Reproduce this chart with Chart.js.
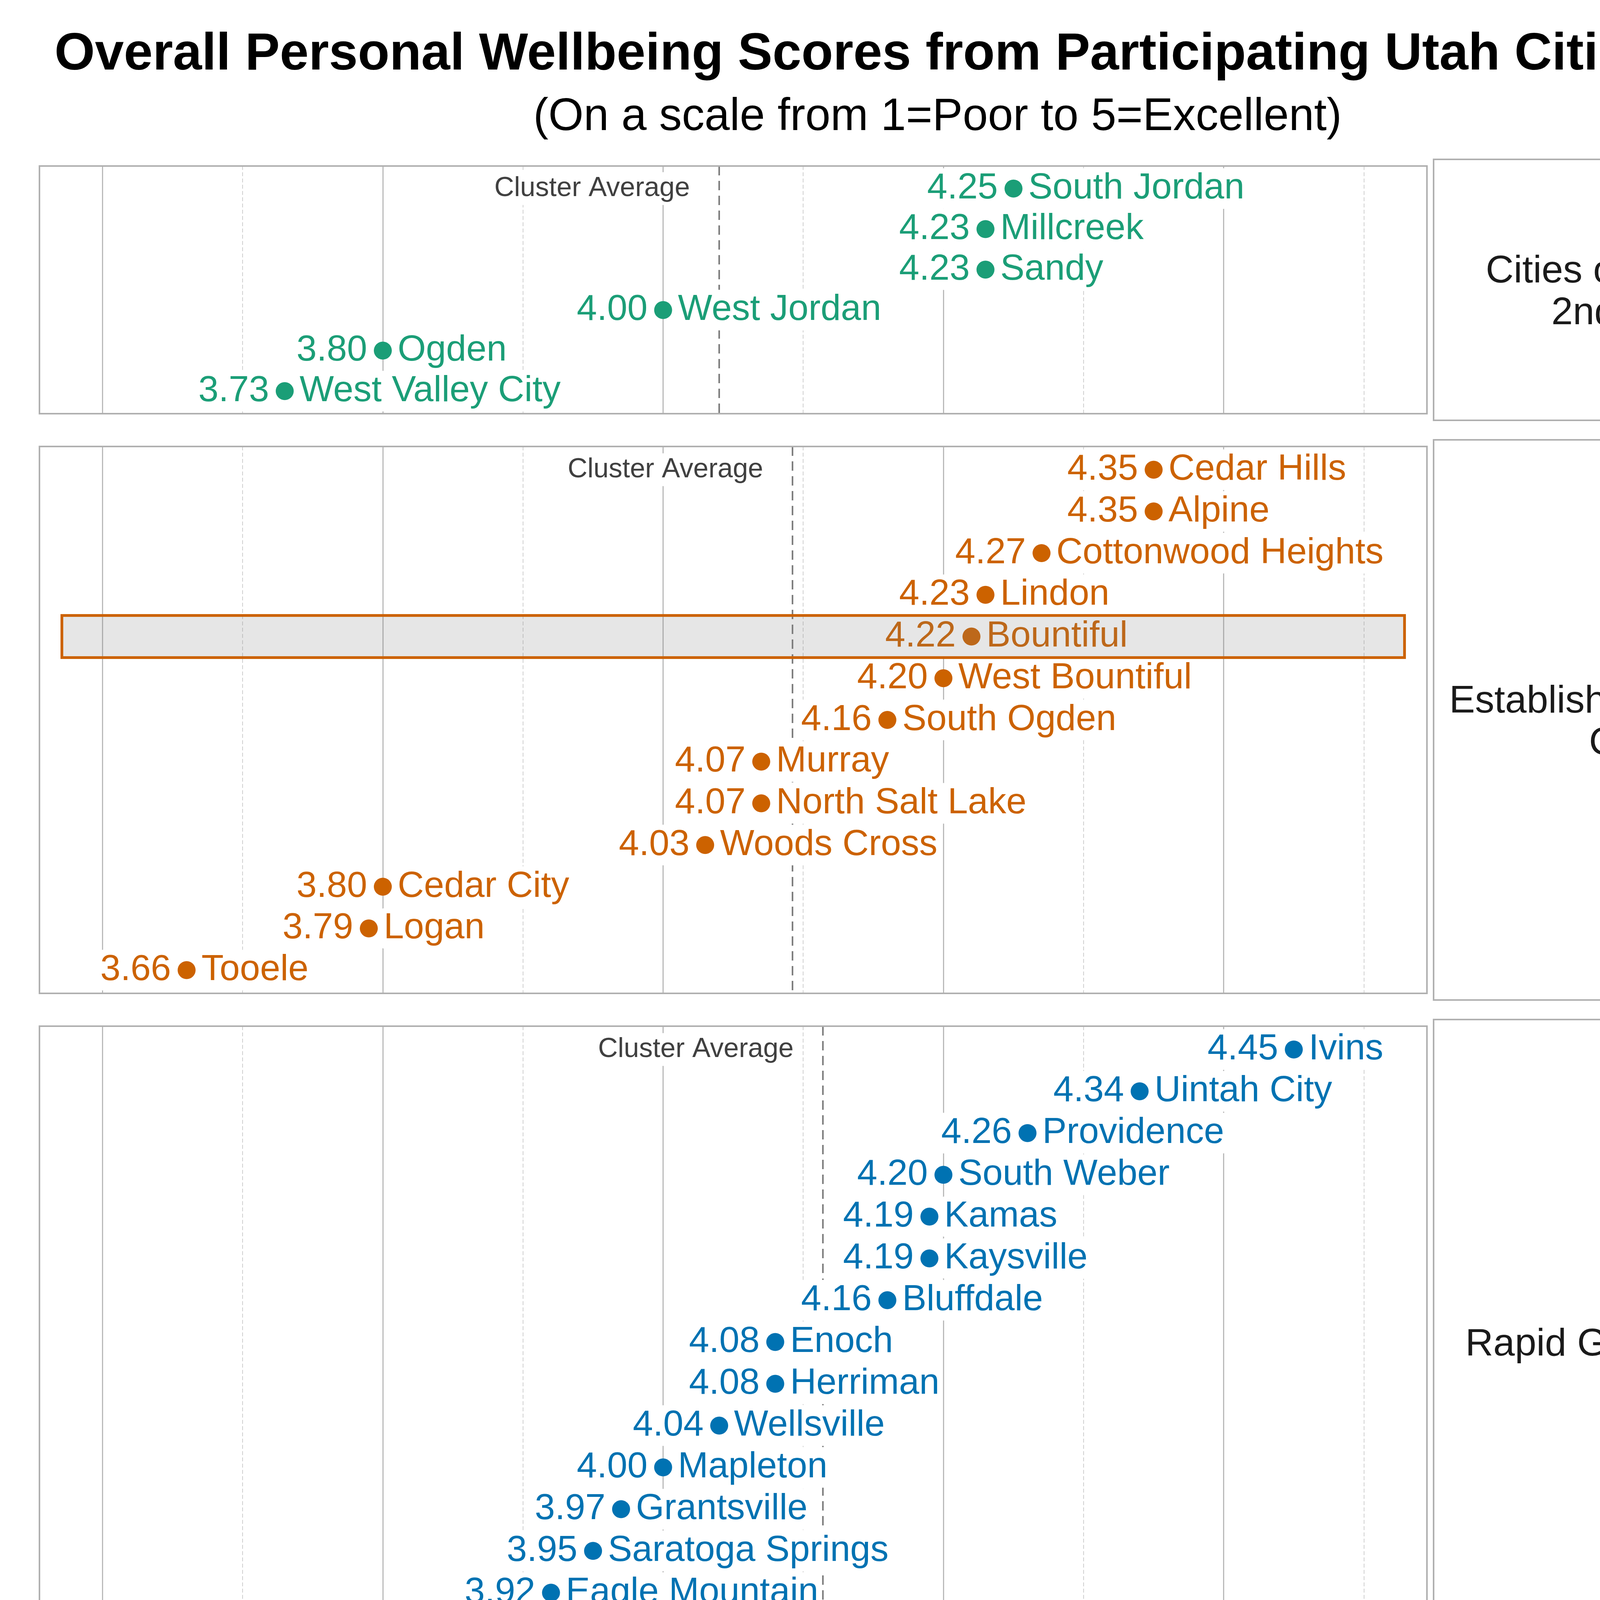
<!DOCTYPE html>
<html>
<head>
<meta charset="utf-8">
<title>Overall Personal Wellbeing Scores</title>
<script src="https://cdn.jsdelivr.net/npm/chart.js@4.4.1/dist/chart.umd.min.js"></script>
<style>
  body { margin: 0; background: #fff; width: 4800px; height: 7200px; position: relative;
         font-family: "Liberation Sans", Arial, sans-serif; }
  #title { position: absolute; left: 0; width: 4800px; top: 66px; text-align: center;
           font-size: 133px; line-height: 133px; font-weight: bold; color: #000; }
  #subtitle { position: absolute; left: 0; width: 4800px; top: 235px; text-align: center;
              font-size: 116px; line-height: 116px; color: #000; }
  #xtitle { position: absolute; left: 877px; width: 2000px; top: 7031px; text-align: center;
            font-size: 82px; line-height: 82px; color: #000; }
  .strip { position: absolute; box-sizing: border-box; border: 4px solid #b0b0b0;
           display: flex; align-items: center; justify-content: center; text-align: center;
           white-space: pre-line; font-size: 99px; line-height: 107px; color: #1a1a1a; }
  canvas { position: absolute; }
</style>
</head>
<body>
<div id="title">Overall Personal Wellbeing Scores from Participating Utah Cities (2026)</div>
<div id="subtitle">(On a scale from 1=Poor to 5=Excellent)</div>
<div id="xtitle">Average Score</div>

<script>
// ---- data ----
var clusterLabels = [
  'Cities of the 1st &\n2nd Class',
  'Established/Mid-sized\nCities',
  'Rapid Growth Cities',
  'Rural Hub/Resort\nCommunities',
  'Traditional Rural\nCommunities'
];

var citiesFirstClass = ['South Jordan', 'Millcreek', 'Sandy', 'West Jordan', 'Ogden', 'West Valley City'];
var scoresFirstClass = [4.25, 4.23, 4.23, 4.00, 3.80, 3.73];

var citiesEstablished = ['Cedar Hills', 'Alpine', 'Cottonwood Heights', 'Lindon', 'Bountiful', 'West Bountiful',
  'South Ogden', 'Murray', 'North Salt Lake', 'Woods Cross', 'Cedar City', 'Logan', 'Tooele'];
var scoresEstablished = [4.35, 4.35, 4.27, 4.23, 4.22, 4.20, 4.16, 4.07, 4.07, 4.03, 3.80, 3.79, 3.66];

var citiesRapid = ['Ivins', 'Uintah City', 'Providence', 'South Weber', 'Kamas', 'Kaysville', 'Bluffdale', 'Enoch',
  'Herriman', 'Wellsville', 'Mapleton', 'Grantsville', 'Saratoga Springs', 'Eagle Mountain', 'Lehi'];
var scoresRapid = [4.45, 4.34, 4.26, 4.20, 4.19, 4.19, 4.16, 4.08, 4.08, 4.04, 4.00, 3.97, 3.95, 3.92, 3.88];

var citiesRuralHub = ['Alta', 'Midway', 'Springdale', 'Morgan', 'Heber', 'Manila', 'Nephi', 'Richfield', 'Bluff',
  'Moab', 'Blanding', 'Vernal', 'Tremonton', 'Wendover'];
var scoresRuralHub = [4.44, 4.38, 4.27, 4.23, 4.19, 4.13, 4.01, 3.99, 3.98, 3.81, 3.78, 3.75, 3.72, 3.67];

var citiesTraditional = ['Mayfield', 'Toquerville', 'Lewiston', 'Lake Point', 'La Verkin', 'Orangeville',
  'Stockton', 'Ferron', 'Delta'];
var scoresTraditional = [4.27, 4.24, 4.22, 4.13, 3.97, 3.96, 3.92, 3.89, 3.77];

var highlightCity = 'Bountiful';
var tickValues = [3.6, 3.8, 4.0, 4.2, 4.4];

// ---- layout / style ----
var colors = ['#1b9e77', '#cc6200', '#0072b2', '#b2182b', '#6a3d9a'];
var xMin = 3.555, xMax = 4.545;
var highlightSpan = [3.571, 4.529];
var FONT = '"Liberation Sans", Arial, sans-serif';
var PAD = 6;
var plotLeft = 84, plotRight = 3670, stripRight = 4715;
var panelTops = [408, 1126, 2610, 4311, 5903];
var panelHeights = [668, 1434, 1651, 1542, 1000];
var axisHeight = 95;

var panels = [
  [citiesFirstClass, scoresFirstClass],
  [citiesEstablished, scoresEstablished],
  [citiesRapid, scoresRapid],
  [citiesRuralHub, scoresRuralHub],
  [citiesTraditional, scoresTraditional]
];

function isMajor(v) {
  var r = Math.round(v * 10) / 10;
  return tickValues.some(function (t) { return Math.abs(t - r) < 1e-6; });
}

function bgBox(ctx, x, y, w, h) {
  ctx.fillStyle = '#fff';
  ctx.beginPath();
  if (ctx.roundRect) { ctx.roundRect(x, y, w, h, 10); } else { ctx.rect(x, y, w, h); }
  ctx.fill();
}

var panelDecor = {
  id: 'panelDecor',
  beforeDatasetsDraw: function (chart, args, o) {
    var ctx = chart.ctx, a = chart.chartArea;
    var px = chart.scales.x.getPixelForValue(o.avg);
    ctx.save();
    ctx.strokeStyle = '#7a7a7a';
    ctx.lineWidth = 4;
    ctx.setLineDash([24, 14]);
    ctx.beginPath();
    ctx.moveTo(px, a.top);
    ctx.lineTo(px, a.bottom);
    ctx.stroke();
    ctx.restore();
  },
  afterDatasetsDraw: function (chart, args, o) {
    var ctx = chart.ctx, a = chart.chartArea;
    var xs = chart.scales.x, ys = chart.scales.y;
    ctx.save();
    ctx.textBaseline = 'middle';

    // cluster average label
    ctx.font = '70px ' + FONT;
    var cx = xs.getPixelForValue(o.avg) - 75, cy = ys.getPixelForValue(0);
    var cw = ctx.measureText('Cluster Average').width;
    bgBox(ctx, cx - cw - 8, cy - 42, cw + 16, 84);
    ctx.fillStyle = '#404040';
    ctx.textAlign = 'right';
    ctx.fillText('Cluster Average', cx, cy);

    // point labels
    ctx.font = '93px ' + FONT;
    o.scores.forEach(function (v, i) {
      var x = xs.getPixelForValue(v), y = ys.getPixelForValue(i);
      var vt = v.toFixed(2), nt = o.cities[i];
      var wv = ctx.measureText(vt).width, wn = ctx.measureText(nt).width;
      bgBox(ctx, x - 40 - wv - 8, y - 52, wv + 16, 104);
      bgBox(ctx, x + 38 - 8, y - 52, wn + 16, 104);
      ctx.fillStyle = o.color;
      ctx.textAlign = 'right';
      ctx.fillText(vt, x - 40, y);
      ctx.textAlign = 'left';
      ctx.fillText(nt, x + 38, y);
    });

    // highlighted city
    var hi = o.cities.indexOf(highlightCity);
    if (hi >= 0) {
      var x1 = xs.getPixelForValue(highlightSpan[0]), x2 = xs.getPixelForValue(highlightSpan[1]);
      var y1 = ys.getPixelForValue(hi - 0.505), y2 = ys.getPixelForValue(hi + 0.505);
      ctx.fillStyle = 'rgba(128,128,128,0.2)';
      ctx.fillRect(x1, y1, x2 - x1, y2 - y1);
      ctx.strokeStyle = o.color;
      ctx.lineWidth = 7;
      ctx.strokeRect(x1, y1, x2 - x1, y2 - y1);
    }

    // panel frame
    ctx.strokeStyle = '#b0b0b0';
    ctx.lineWidth = 4;
    ctx.strokeRect(a.left, a.top, a.right - a.left, a.bottom - a.top);
    ctx.restore();
  }
};

panels.forEach(function (p, k) {
  var cities = p[0], scores = p[1];
  var n = cities.length;
  var last = (k === panels.length - 1);
  var avg = scores.reduce(function (s, v) { return s + v; }, 0) / n;

  var canvas = document.createElement('canvas');
  var w = plotRight - plotLeft + 2 * PAD;
  var h = panelHeights[k] + 2 * PAD + (last ? axisHeight : 0);
  canvas.width = w;
  canvas.height = h;
  canvas.style.left = (plotLeft - PAD) + 'px';
  canvas.style.top = (panelTops[k] - PAD) + 'px';
  canvas.style.width = w + 'px';
  canvas.style.height = h + 'px';
  document.body.appendChild(canvas);

  var strip = document.createElement('div');
  strip.className = 'strip';
  strip.style.left = (plotRight - 2) + 'px';
  strip.style.width = (stripRight - plotRight + 2) + 'px';
  strip.style.top = (panelTops[k] - 2) + 'px';
  strip.style.height = (panelHeights[k] + 4) + 'px';
  strip.textContent = clusterLabels[k];
  document.body.appendChild(strip);

  new Chart(canvas, {
    type: 'scatter',
    data: {
      datasets: [{
        data: scores.map(function (v, i) { return { x: v, y: i }; }),
        backgroundColor: colors[k],
        borderWidth: 0,
        pointRadius: 23,
        pointHoverRadius: 23
      }]
    },
    options: {
      responsive: false,
      animation: false,
      devicePixelRatio: 1,
      events: [],
      layout: { padding: PAD },
      plugins: {
        legend: { display: false },
        tooltip: { enabled: false },
        panelDecor: { avg: avg, scores: scores, cities: cities, color: colors[k] }
      },
      scales: {
        x: {
          type: 'linear',
          min: xMin,
          max: xMax,
          afterFit: function (s) { s.height = last ? axisHeight : 0; },
          ticks: {
            display: last,
            stepSize: 0.1,
            includeBounds: false,
            autoSkip: false,
            maxRotation: 0,
            padding: 5,
            color: '#000',
            font: { size: 75, family: FONT, lineHeight: 1.2 },
            callback: function (v) { return isMajor(v) ? (Math.round(v * 10) / 10).toFixed(1) : ''; }
          },
          grid: {
            drawTicks: false,
            color: function (c) { return isMajor(c.tick.value) ? '#bababa' : '#cfcfcf'; },
            lineWidth: function (c) { return isMajor(c.tick.value) ? 3 : 2; }
          },
          border: {
            display: false,
            dash: function (c) { return (c.tick && !isMajor(c.tick.value)) ? [10, 6] : []; }
          }
        },
        y: {
          type: 'linear',
          display: false,
          reverse: true,
          min: -0.558,
          max: n - 0.442
        }
      }
    },
    plugins: [panelDecor]
  });
});
</script>
</body>
</html>
